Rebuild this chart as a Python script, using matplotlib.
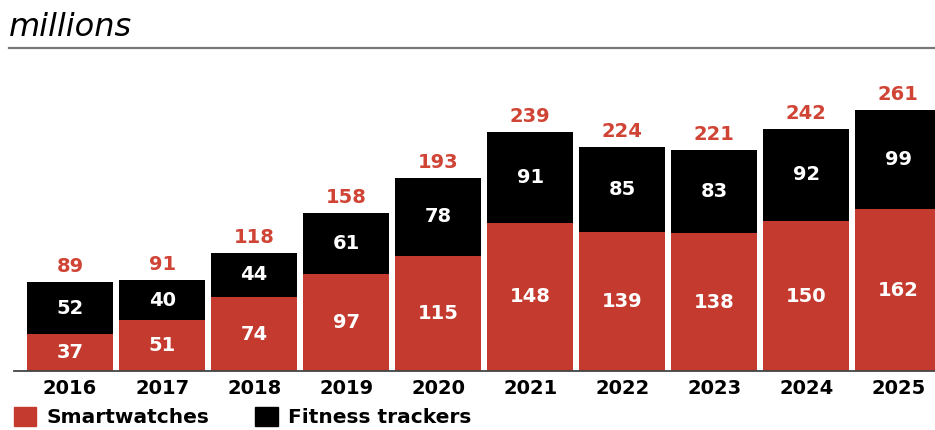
import matplotlib.pyplot as plt
from matplotlib.lines import Line2D
from matplotlib.patches import Patch

years = ["2016", "2017", "2018", "2019", "2020", "2021", "2022", "2023", "2024", "2025"]
smartwatches = [37, 51, 74, 97, 115, 148, 139, 138, 150, 162]
fitness = [52, 40, 44, 61, 78, 91, 85, 83, 92, 99]
totals = [89, 91, 118, 158, 193, 239, 224, 221, 242, 261]

RED = "#C53A2E"
RED_TXT = "#D04436"

W, H = 935, 430
fig = plt.figure(figsize=(W / 100, H / 100), dpi=100)
ax = fig.add_axes([14 / W, (H - 371) / H, 1 - 14 / W, (371 - 50) / H])

x = list(range(len(years)))
ax.bar(x, smartwatches, width=0.935, color=RED)
ax.bar(x, fitness, width=0.935, bottom=smartwatches, color="black")

for i in x:
    s, f, t = smartwatches[i], fitness[i], totals[i]
    ax.text(i, s / 2, str(s), ha="center", va="center", color="white",
            fontsize=14, fontweight="bold")
    ax.text(i, s + f / 2, str(f), ha="center", va="center", color="white",
            fontsize=14, fontweight="bold")
    ax.annotate(str(t), (i, s + f), xytext=(0, 4), textcoords="offset points",
                ha="center", va="bottom", color=RED_TXT, fontsize=14,
                fontweight="bold")

ax.set_xlim(-0.61, 9.40)
ax.set_ylim(0, 321)
ax.set_xticks(x)
ax.set_xticklabels(years, fontsize=14, fontweight="bold")
ax.tick_params(axis="x", length=0, pad=6)
ax.set_yticks([])
for side in ["top", "right", "left"]:
    ax.spines[side].set_visible(False)
ax.spines["bottom"].set_color("#444444")
ax.spines["bottom"].set_linewidth(1.3)

fig.text(9 / W, 1 - 28 / H, "millions", fontsize=23, style="italic",
         ha="left", va="center")
fig.add_artist(Line2D([9 / W, 1], [1 - 48 / H, 1 - 48 / H], color="#777777",
                      linewidth=1.6, transform=fig.transFigure))

handles = [Patch(color=RED), Patch(color="black")]
fig.legend(handles, ["Smartwatches", "Fitness trackers"], loc="center left",
           bbox_to_anchor=(6 / W, 1 - 417 / H), ncol=2, frameon=False,
           prop={"size": 14.5, "weight": "bold"}, handlelength=1.1,
           handleheight=1.1, handletextpad=0.5, columnspacing=2.3,
           borderpad=0, borderaxespad=0.4)

fig.savefig("out.png", dpi=100)
